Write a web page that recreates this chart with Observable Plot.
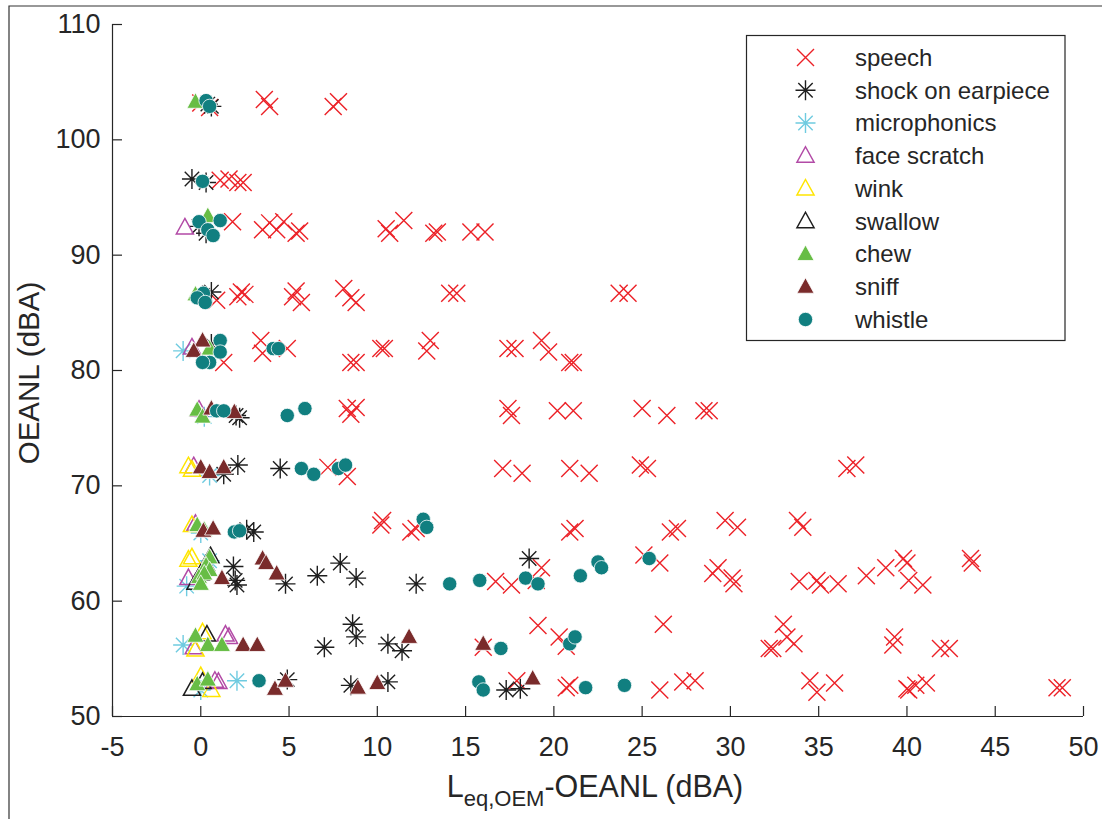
<!DOCTYPE html>
<html><head><meta charset="utf-8">
<script src="https://cdn.jsdelivr.net/npm/d3@7"></script>
<script src="https://cdn.jsdelivr.net/npm/@observablehq/plot@0.6"></script>
<style>body{margin:0;background:#fff;} svg{display:block;}</style>
</head><body><div id="chart"></div>
<script>
// ---- data ----
const seriesNames = ["speech","shock on earpiece","microphonics","face scratch","wink","swallow","chew","sniff","whistle"];
const xTicks = [-5,0,5,10,15,20,25,30,35,40,45,50];
const yTicks = [50,60,70,80,90,100,110];

const speech = [
[0.0,103.2],[0.5,102.8],[3.6,103.5],[3.9,102.9],[7.5,102.9],[7.8,103.3],
[1.1,96.5],[1.6,96.6],[2.1,96.3],[2.4,96.3],
[1.8,92.9],[3.5,92.2],[3.9,92.8],[4.3,92.2],[4.7,92.9],[5.4,91.9],[5.6,92.1],[10.5,92.3],[10.7,91.9],[11.5,93.0],[13.2,91.9],[13.4,92.0],[15.3,92.0],[16.1,92.0],
[0.9,86.1],[2.1,86.4],[2.3,86.8],[2.5,86.6],[5.2,86.4],[5.4,86.9],[5.7,85.9],[8.1,87.1],[8.5,86.3],[8.8,85.9],[14.1,86.7],[14.5,86.7],[23.7,86.7],[24.2,86.7],
[1.3,80.7],[3.4,82.6],[3.5,81.5],[4.9,81.9],[8.5,80.7],[8.8,80.7],[10.2,81.9],[10.4,81.9],[12.8,81.7],[13.0,82.6],[17.4,81.9],[17.8,81.9],[19.3,82.6],[19.7,81.6],[20.9,80.7],[21.1,80.7],
[8.3,76.7],[8.5,76.2],[8.8,76.8],[17.4,76.7],[17.6,76.1],[20.2,76.5],[21.1,76.5],[25.0,76.7],[26.4,76.1],[28.5,76.5],[28.8,76.5],
[7.2,71.6],[8.3,70.8],[17.1,71.5],[18.2,71.1],[20.9,71.5],[22.0,71.1],[24.9,71.8],[25.3,71.5],[36.6,71.5],[37.1,71.8],
[10.2,66.6],[10.3,67.0],[11.9,66.0],[12.2,66.3],[20.9,66.0],[21.2,66.3],[26.6,66.0],[27.0,66.3],[29.7,67.0],[30.4,66.4],[33.8,67.0],[34.1,66.4],
[16.7,61.7],[17.6,61.4],[19.0,61.8],[19.3,62.9],[25.1,64.0],[26.0,63.3],[29.0,62.4],[29.3,62.9],[30.1,62.0],[30.2,61.5],[33.9,61.7],[34.9,61.8],[35.1,61.4],[36.1,61.5],[37.7,62.2],[38.8,62.9],[39.8,63.7],[40.0,63.3],[40.1,61.8],[40.9,61.4],[43.6,63.7],[43.7,63.3],
[16.0,56.0],[19.1,57.9],[20.3,56.9],[20.7,56.1],[26.2,58.0],[32.2,55.9],[32.4,55.9],[33.0,58.0],[33.2,56.9],[33.6,56.3],[39.2,56.2],[39.3,56.9],[41.9,55.9],[42.4,55.9],
[17.9,53.1],[20.7,52.5],[20.9,52.7],[26.0,52.3],[27.3,53.0],[28.0,53.1],[34.5,53.1],[34.9,52.1],[35.9,52.9],[40.0,52.4],[40.1,52.3],[40.5,52.7],[41.1,52.9],[48.5,52.5],[48.8,52.5]
];
const shock = [
[0.4,103.1],[0.6,102.9],[-0.5,96.6],[0.3,96.3],[-0.1,92.5],[0.3,91.9],[0.1,86.5],[0.6,86.8],[0.6,82.3],
[2.0,76.1],[2.2,75.9],[1.3,71.0],[2.1,71.8],[4.5,71.5],[2.6,66.2],[3.0,66.0],
[1.85,63.0],[1.95,61.8],[2.05,61.4],[4.8,61.5],[6.6,62.2],[7.9,63.3],[8.8,62.0],[12.2,61.5],[18.6,63.7],
[7.0,56.0],[8.6,58.0],[8.8,56.9],[10.6,56.3],[11.4,55.7],
[4.9,53.2],[8.5,52.7],[10.6,53.0],[17.3,52.3],[18.1,52.4]
];
const microphonics = [[-1.0,81.7],[0.2,76.0],[0.5,70.9],[0.0,65.9],[-0.8,61.3],[0.5,63.5],[-1.0,56.2],[0.0,52.3],[2.05,53.1]];
const faceScratch = [[-0.9,92.4],[-0.5,82.0],[-0.1,76.6],[-0.4,71.7],[-0.3,66.7],[-0.7,62.0],[-0.4,56.0],[1.4,57.1],[1.6,56.9],[0.8,53.1],[1.0,53.0]];
const wink = [[-0.7,71.7],[-0.5,71.4],[-0.5,66.6],[-0.7,63.6],[-0.5,63.8],[0.1,57.3],[-0.3,55.8],[0.0,53.5],[0.6,52.3]];
const swallow = [[0.55,63.9],[0.3,63.2],[0.0,62.4],[-0.3,61.6],[0.35,57.1],[-0.5,52.4],[0.1,53.0]];
const chew = [[-0.3,103.3],[0.4,93.4],[-0.3,86.6],[0.5,81.9],[-0.2,76.6],[0.1,76.0],[-0.2,66.6],[0.2,66.2],[0.5,63.8],[0.3,63.1],[0.5,62.7],[-0.1,62.1],[0.2,62.4],[0.0,61.5],[-0.3,57.0],[0.4,56.2],[1.2,56.2],[-0.2,52.8],[0.4,53.2]];
const sniff = [[0.1,82.6],[-0.4,81.7],[0.6,76.7],[1.9,76.4],[0.0,71.6],[0.5,71.2],[1.3,71.6],[0.15,66.1],[0.7,66.3],[1.2,62.0],[3.5,63.7],[3.7,63.3],[4.3,62.4],[2.4,56.2],[3.2,56.2],[11.8,56.9],[16.0,56.3],[4.2,52.4],[4.8,53.1],[8.9,52.5],[10.0,52.9],[18.8,53.3]];
const whistle = [[0.3,103.4],[0.5,102.9],[0.1,96.4],[-0.1,92.9],[0.4,92.2],[1.1,93.0],[0.7,91.7],[0.15,86.7],[-0.2,86.3],[0.25,85.9],[1.1,82.6],[1.1,81.6],[0.5,80.7],[0.1,80.7],[4.1,81.9],[4.4,81.9],[0.9,76.5],[1.3,76.5],[4.9,76.1],[5.9,76.7],[5.7,71.5],[6.4,71.0],[7.8,71.5],[8.2,71.8],[1.9,66.0],[2.2,66.1],[12.6,67.1],[12.8,66.4],[14.1,61.5],[15.8,61.8],[18.4,62.0],[19.1,61.5],[21.5,62.2],[22.5,63.4],[22.7,62.9],[25.4,63.7],[17.0,55.9],[20.9,56.3],[21.2,56.9],[3.3,53.1],[15.75,53.0],[16.0,52.3],[21.8,52.5],[24.0,52.7]];

// ---- symbols & styles ----
const symX = {draw(c,s){const r=Math.sqrt(s/Math.PI); c.moveTo(-r,-r);c.lineTo(r,r);c.moveTo(-r,r);c.lineTo(r,-r);}};
const symStar = {draw(c,s){const r=Math.sqrt(s/Math.PI), d=r*0.72; c.moveTo(0,-r);c.lineTo(0,r);c.moveTo(-r,0);c.lineTo(r,0);c.moveTo(-d,-d);c.lineTo(d,d);c.moveTo(-d,d);c.lineTo(d,-d);}};
const symTri = {draw(c,s){const r=Math.sqrt(s/Math.PI); c.moveTo(0,-r);c.lineTo(r*0.95,r*0.72);c.lineTo(-r*0.95,r*0.72);c.closePath();}};
const symCirc = {draw(c,s){const r=Math.sqrt(s/Math.PI); c.moveTo(r,0); c.arc(0,0,r,0,2*Math.PI);}};

const series = [
 {data: speech,       sym: symX,    r: 8.5, stroke: "#ec2127", fill: "none", sw: 1.4},
 {data: shock,        sym: symStar, r: 10,  stroke: "#1e1e1e", fill: "none", sw: 1.4},
 {data: microphonics, sym: symStar, r: 10,  stroke: "#6fcbe0", fill: "none", sw: 1.4},
 {data: faceScratch,  sym: symTri,  r: 9,   stroke: "#b24aa6", fill: "none", sw: 1.5},
 {data: wink,         sym: symTri,  r: 9,   stroke: "#ffe500", fill: "none", sw: 1.5},
 {data: swallow,      sym: symTri,  r: 9,   stroke: "#1e1e1e", fill: "none", sw: 1.5},
 {data: chew,         sym: symTri,  r: 9,   stroke: "#ffffff", fill: "#67bd45", sw: 0.8},
 {data: sniff,        sym: symTri,  r: 9,   stroke: "#ffffff", fill: "#7a2b2b", sw: 0.8},
 {data: whistle,      sym: symCirc, r: 7.2, stroke: "#ffffff", fill: "#117f80", sw: 0.8}
];

const W = 1102, H = 819, mT = 24, mL = 112, mR = 19, mB = 103;
const frameW = W - mL - mR, frameH = H - mT - mB;
const ink = "#262626";
const font = "'Liberation Sans', Arial, Helvetica, sans-serif";

const chart = Plot.plot({
  width: W, height: H,
  marginTop: mT, marginLeft: mL, marginRight: mR, marginBottom: mB,
  x: {domain: [-5, 50]},
  y: {domain: [50, 110]},
  style: {fontFamily: font, fontSize: "27px", color: ink, background: "#fff", overflow: "visible"},
  marks: [
    ...series.map(s => Plot.dot(s.data, {x: d => d[0], y: d => d[1], symbol: s.sym, r: s.r, stroke: s.stroke, fill: s.fill, strokeWidth: s.sw})),
    Plot.ruleX([-5], {stroke: ink, strokeWidth: 1.2}),
    Plot.ruleY([50], {stroke: ink, strokeWidth: 1.2}),
    Plot.tickX(xTicks, {x: d => d, insetTop: frameH - 10, stroke: ink, strokeWidth: 1.2}),
    Plot.tickY(yTicks, {y: d => d, insetRight: frameW - 10, stroke: ink, strokeWidth: 1.2}),
    Plot.axisX(xTicks, {tickSize: 0, tickPadding: 20, tickFormat: d => String(d), label: null, fill: ink}),
    Plot.axisY(yTicks, {tickSize: 0, tickPadding: 12, tickFormat: d => String(d), label: null, fill: ink})
  ]
});

document.getElementById("chart").appendChild(chart);
const svg = d3.select(chart);

// figure border (top & left edges visible)
svg.append("path").attr("d", `M9,${H}V6H${W}`).attr("fill", "none").attr("stroke", "#333").attr("stroke-width", 1.2);

// axis titles
svg.append("text").attr("transform", "translate(39,373) rotate(-90)").attr("text-anchor", "middle")
  .attr("font-size", 29.5).attr("fill", ink).text("OEANL (dBA)");
const xl = svg.append("text").attr("x", 595).attr("y", 797).attr("text-anchor", "middle").attr("font-size", 30.5).attr("fill", ink);
xl.append("tspan").text("L");
xl.append("tspan").attr("font-size", 22).attr("dy", 9).text("eq,OEM");
xl.append("tspan").attr("dy", -9).text("-OEANL (dBA)");

// legend
const lg = svg.append("g");
lg.append("rect").attr("x", 746.5).attr("y", 35.5).attr("width", 318.5).attr("height", 305)
  .attr("fill", "#fff").attr("stroke", ink).attr("stroke-width", 1.2);
series.forEach((s, i) => {
  const cy = 57.5 + i * 32.75;
  const p = d3.path(); s.sym.draw(p, s.r * s.r * Math.PI);
  lg.append("path").attr("transform", `translate(805.5,${cy})`).attr("d", p.toString())
    .attr("fill", s.fill).attr("stroke", s.stroke).attr("stroke-width", s.sw);
  lg.append("text").attr("x", 855).attr("y", cy).attr("dy", "0.35em").attr("text-anchor", "start")
    .attr("font-size", 24).attr("fill", ink).text(seriesNames[i]);
});
</script>
</body></html>
